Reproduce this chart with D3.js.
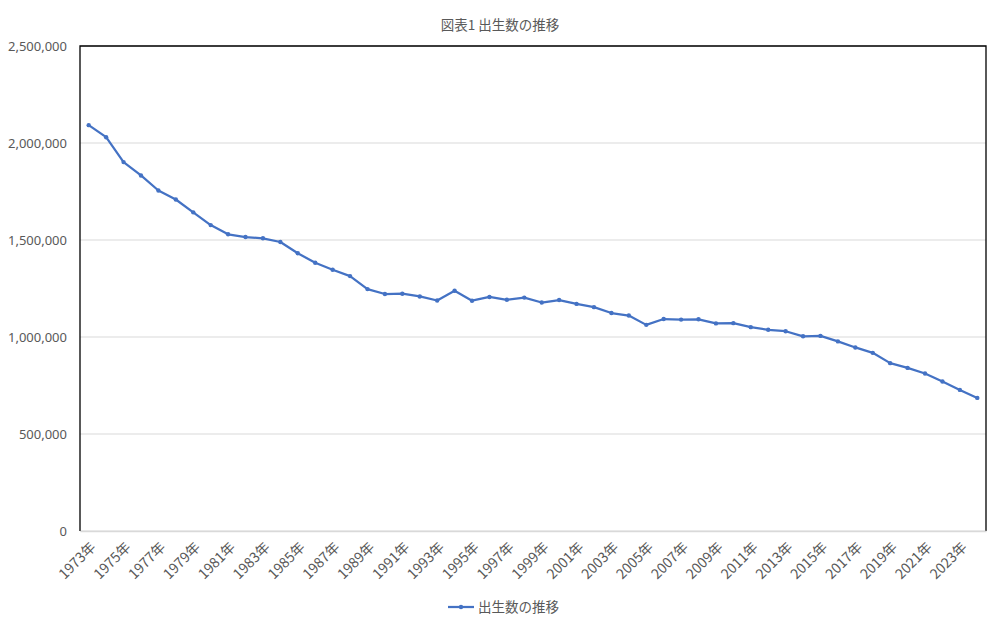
<!DOCTYPE html>
<html>
<head>
<meta charset="UTF-8">
<style>
  body { margin: 0; background: #fff; }
  svg text { font-family: "Noto Sans CJK JP", "Noto Sans", sans-serif; fill: #595959; }
</style>
</head>
<body>
<svg id="chart" width="1000" height="623"></svg>
<script src="https://cdn.jsdelivr.net/npm/d3@7/dist/d3.min.js"></script>
<script>
const years = d3.range(1973, 2025).map(y => y + "年");
const births = [
  2091983, 2029989, 1901440, 1832617, 1755100, 1708643, 1642580, 1576889,
  1529455, 1515392, 1508687, 1489780, 1431577, 1382946, 1346658, 1314006,
  1246802, 1221585, 1223245, 1208989, 1188282, 1238328, 1187064, 1206555,
  1191665, 1203147, 1177669, 1190547, 1170662, 1153855, 1123610, 1110721,
  1062530, 1092674, 1089818, 1091156, 1070036, 1071304, 1050806, 1037231,
  1029816, 1003609, 1005721, 977242, 946146, 918400, 865239, 840835,
  811622, 770759, 727288, 686061
];
const yTicks = [0, 500000, 1000000, 1500000, 2000000, 2500000];
const seriesName = "出生数の推移";
const title = "図表1 出生数の推移";

const plotLeft = 80, plotRight = 986, plotTop = 46, plotBottom = 531;
const blue = "#4472C4";
const svg = d3.select("#chart");

const x = d3.scaleBand().domain(years).range([plotLeft, plotRight]);
const y = d3.scaleLinear().domain([0, 2500000]).range([plotBottom, plotTop]);

// gridlines
svg.append("g")
  .selectAll("line")
  .data(yTicks)
  .join("line")
  .attr("x1", plotLeft).attr("x2", plotRight)
  .attr("y1", d => y(d)).attr("y2", d => y(d))
  .attr("stroke", "#d9d9d9").attr("stroke-width", 1);

// plot border (left, top, right black)
svg.append("path")
  .attr("d", `M${plotLeft},${plotBottom}V${plotTop}H${plotRight}V${plotBottom}`)
  .attr("fill", "none").attr("stroke", "#000").attr("stroke-width", 1.3);

// y axis labels
const yAxis = d3.axisLeft(y).tickValues(yTicks).tickSize(0).tickPadding(13)
  .tickFormat(d3.format(","));
svg.append("g")
  .attr("transform", `translate(${plotLeft},0)`)
  .call(yAxis)
  .call(g => g.select(".domain").remove())
  .call(g => g.selectAll("text").attr("font-size", 13).attr("fill", "#595959")
    .style("font-family", "'Noto Sans', sans-serif"));

// x axis
const xAxis = d3.axisBottom(x)
  .tickValues(years.filter((d, i) => i % 2 === 0))
  .tickSize(0);
svg.append("g")
  .attr("transform", `translate(0,${plotBottom})`)
  .call(xAxis)
  .call(g => g.select(".domain").attr("stroke", "#d9d9d9").attr("stroke-width", 1.3))
  .call(g => g.selectAll("text")
    .attr("font-size", 14)
    .attr("fill", "#595959")
    .attr("text-anchor", "end")
    .attr("dy", null)
    .attr("y", 0)
    .attr("transform", "translate(8,17) rotate(-45)"));

// line
const pts = years.map((d, i) => [x(d) + x.bandwidth() / 2, y(births[i])]);
svg.append("path")
  .datum(pts)
  .attr("d", d3.line())
  .attr("fill", "none").attr("stroke", blue).attr("stroke-width", 2.25)
  .attr("stroke-linejoin", "round");

svg.append("g")
  .selectAll("circle")
  .data(pts)
  .join("circle")
  .attr("cx", d => d[0]).attr("cy", d => d[1]).attr("r", 2.2)
  .attr("fill", blue);

// title
svg.append("text")
  .attr("x", 500).attr("y", 30)
  .attr("text-anchor", "middle").attr("font-size", 13.5)
  .text(title);

// legend
const lg = svg.append("g").attr("transform", "translate(448,607)");
lg.append("line").attr("x1", 0).attr("x2", 26).attr("y1", 0).attr("y2", 0)
  .attr("stroke", blue).attr("stroke-width", 2.25);
lg.append("circle").attr("cx", 13).attr("cy", 0).attr("r", 2.2).attr("fill", blue);
lg.append("text").attr("x", 30).attr("y", 5).attr("font-size", 13.5).text(seriesName);
</script>
</body>
</html>
